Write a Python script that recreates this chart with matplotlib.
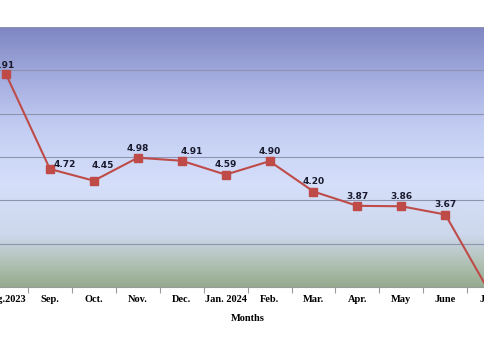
import numpy as np
import matplotlib.pyplot as plt
from matplotlib.colors import LinearSegmentedColormap

# Monthly inflation rate (%)
months = ["Aug.2023", "Sep.", "Oct.", "Nov.", "Dec.", "Jan. 2024", "Feb.",
          "Mar.", "Apr.", "May", "June", "July"]
rates = [6.91, 4.72, 4.45, 4.98, 4.91, 4.59, 4.90, 4.20, 3.87, 3.86, 3.67, 1.89]

y_min, y_max = 2, 8
line_color = "#BE4B48"

fig = plt.figure(figsize=(4.85, 3.44), dpi=100)
# plot area is wider than the canvas, the y axis sits off to the left
ax = fig.add_axes([-0.033, 0.166, 1.087, 0.756])

# plot area fill: purple-blue at the top, pale blue, greenish grey at the bottom
bg = LinearSegmentedColormap.from_list("bg", [
    (0.00, "#95AB8E"),
    (0.08, "#AEBFB0"),
    (0.20, "#CDD8EC"),
    (0.40, "#D5DFFA"),
    (0.62, "#C2CCF2"),
    (0.82, "#A0A9DC"),
    (1.00, "#7E85C1"),
])
grad = np.linspace(0, 1, 256).reshape(-1, 1)
ax.imshow(grad, cmap=bg, origin="lower", aspect="auto",
          extent=[-0.5, len(months) - 0.5, y_min, y_max], zorder=0)

x = np.arange(len(months))
ax.plot(x, rates, color=line_color, lw=1.5, marker="s", ms=5.5,
        mfc=line_color, mec=line_color, zorder=3)

# value labels, nudged where they would sit on the line
offsets = {0: (-2, 6), 1: (11, 3), 2: (6.5, 11), 4: (7, 7)}
for i, v in enumerate(rates):
    if v < y_min:
        continue
    dx, dy = offsets.get(i, (0, 7))
    ax.annotate(f"{v:.2f}", (i, v), xytext=(dx, dy), textcoords="offset points",
                ha="center", va="center", fontsize=6.5, fontweight="bold",
                color="#1a1a2e", zorder=4)

ax.set_xlim(-0.5, len(months) - 0.5)
ax.set_ylim(y_min, y_max)
ax.set_yticks(range(y_min, y_max + 1))
ax.grid(axis="y", color="#8E94B0", lw=0.8, zorder=1)
ax.set_axisbelow(False)
ax.tick_params(axis="y", left=False, labelleft=False)

# category labels in the middle, tick marks on the boundaries
ax.set_xticks(np.arange(-0.5, len(months), 1.0))
ax.set_xticklabels([])
ax.tick_params(axis="x", which="major", length=4, width=0.8, color="#9A9A9A")
ax.set_xticks(x, minor=True)
ax.set_xticklabels(months, minor=True, family="Liberation Serif",
                   fontweight="bold", fontsize=7.5)
ax.tick_params(axis="x", which="minor", length=0, pad=6)

for side in ["left", "top", "right"]:
    ax.spines[side].set_visible(False)
ax.spines["bottom"].set_color("#9A9A9A")
ax.spines["bottom"].set_linewidth(0.8)

ax.set_xlabel("Months", family="Liberation Serif", fontweight="bold",
              fontsize=7.5, labelpad=7)

fig.savefig("out.png", dpi=100)
